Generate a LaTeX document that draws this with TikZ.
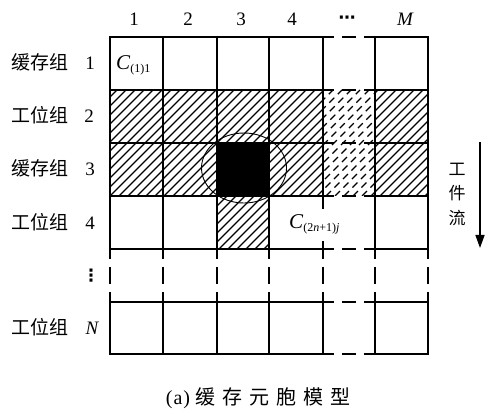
\documentclass[tikz,border=0pt]{standalone}
\usepackage{fontspec}
\setmainfont{Liberation Serif}
\newfontfamily\cjk{Noto Sans CJK SC}
\newfontfamily\dejavu{DejaVu Sans}
\usetikzlibrary{arrows.meta}
\newcommand\hatchrect[5][]{%
  \begin{scope}
    \clip (#2,#3) rectangle (#4,#5);
    \foreach \c in {0,9,...,720} {\draw[hatchln,#1] ({\c-#5},#5) -- ({\c-#3},#3);}
  \end{scope}}
\begin{document}
\begin{tikzpicture}[x=1pt,y=-1pt,
  gridln/.style={line width=1.5pt,line cap=rect},
  hdash/.style={line width=1.5pt,dash pattern=on 11pt off 8pt on 14pt off 8pt on 11pt},
  vdash/.style={line width=1.5pt,dash pattern=on 10pt off 8pt on 17pt off 8pt on 10pt},
  hatchln/.style={line width=1.1pt},
  hatchdash/.style={dash pattern=on 7pt off 5pt},
  cjklbl/.style={font=\cjk\fontsize{19}{19}\selectfont,inner sep=0pt,anchor=base east},
  numlbl/.style={font=\fontsize{19}{19}\selectfont,inner sep=0pt,anchor=base},
  every node/.style={text=black}]
\useasboundingbox (0,0) rectangle (489,411);
% hatching
\hatchrect{110}{90}{323}{196}
\hatchrect{375}{90}{428}{196}
\hatchrect{217}{196}{269}{249}
\hatchrect[hatchdash]{323}{90}{375}{196}
% black cell and ellipse
\fill[black] (217,143) rectangle (269,196);
\draw[line width=0.9pt] (244,168) ellipse [x radius=42.5pt, y radius=35pt];
% grid
\foreach \y in {37,90,143,196,249,302,354} {
  \draw[gridln] (110,\y) -- (323,\y);
  \draw[gridln] (375,\y) -- (428,\y);
  \draw[hdash] (323,\y) -- (375,\y);
}
\foreach \x in {110,163,217,269,323,375,428} {
  \draw[gridln] (\x,37) -- (\x,249);
  \draw[vdash] (\x,249) -- (\x,302);
  \draw[gridln] (\x,302) -- (\x,354);
}
% column headers
\node[numlbl] (h1) at (134,26) {1};
\node[numlbl] (h2) at (188,26) {2};
\node[numlbl] (h3) at (241,26) {3};
\node[numlbl] (h4) at (292,26) {4};
\node[font=\dejavu\fontsize{17}{17}\selectfont\bfseries,inner sep=0pt] (h5) at (347,20) {⋯};
\node[numlbl,font=\fontsize{19}{19}\selectfont\itshape] (hM) at (405,26) {M};
% row labels
\node[cjklbl] (r1) at (69,70) {缓存组};
\node[numlbl] (n1) at (90,70) {1};
\node[cjklbl] (r2) at (69,123) {工位组};
\node[numlbl] (n2) at (89,123) {2};
\node[cjklbl] (r3) at (69,176) {缓存组};
\node[numlbl] (n3) at (90,176) {3};
\node[cjklbl] (r4) at (69,230) {工位组};
\node[numlbl] (n4) at (90,230) {4};
\node[font=\dejavu\fontsize{17}{17}\selectfont\bfseries,inner sep=0pt] (nd) at (91,276) {⋮};
\node[cjklbl] (rN) at (69,334) {工位组};
\node[numlbl,font=\fontsize{19}{19}\selectfont\itshape] (nN) at (92,334) {N};
% cell labels
\node[inner sep=0pt,anchor=base west] (c11) at (116,70) {\fontsize{21}{21}\selectfont\textit{C}\raisebox{-3pt}{\fontsize{12}{12}\selectfont(1)1}};
\node[inner xsep=1pt,inner ysep=6pt,anchor=base west,fill=white] (c2n) at (288,229) {\fontsize{21}{21}\selectfont\textit{C}\raisebox{-3pt}{\fontsize{12}{12}\selectfont(2\textit{n}+1)\textit{j}}};
% flow arrow
\node[font=\cjk\fontsize{17}{24.5}\selectfont,align=center,inner sep=0pt] (flow) at (457,194) {工\\件\\流};
\coordinate (fa) at (480,142);
\coordinate (fb) at (480,248);
\draw[line width=1.5pt,-{Triangle[length=13pt,width=9pt]}] (fa) -- (fb);
% caption
\node[inner sep=0pt,font=\fontsize{20}{20}\selectfont] (cap) at (258,398) {(\kern1pt a\kern1pt)\hspace{5pt}{\cjk 缓\hspace{7pt}存\hspace{7pt}元\hspace{7pt}胞\hspace{7pt}模\hspace{7pt}型}};
\end{tikzpicture}
\end{document}
